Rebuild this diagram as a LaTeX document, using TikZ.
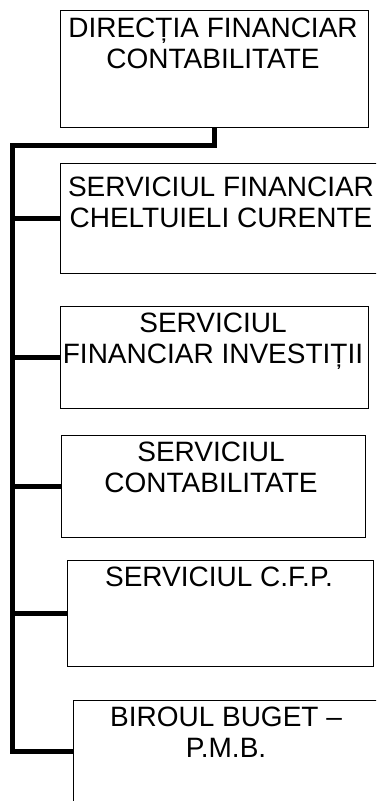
\documentclass[tikz,border=0pt]{standalone}
\usepackage{fontspec}
\setmainfont{Liberation Sans}
\begin{document}
\begin{tikzpicture}[x=0.75pt,y=-0.75pt,
  box/.style={draw, line width=1pt, inner sep=0pt, anchor=north west},
  lbl/.style={font=\fontsize{21}{22.9}\selectfont, align=center, inner sep=0pt, anchor=north},
  link/.style={line width=3.75pt, line join=miter}]
\useasboundingbox (0,0) rectangle (376,801);
\clip (0,0) rectangle (376,801);
% boxes
\node[box, minimum width=231pt, minimum height=87.75pt] (b1) at (60,10) {};
\node[box, minimum width=241.5pt, minimum height=82.5pt] (b2) at (60,163) {};
\node[box, minimum width=231pt, minimum height=76.5pt] (b3) at (60,306) {};
\node[box, minimum width=228pt, minimum height=76.5pt] (b4) at (61,435) {};
\node[box, minimum width=229.5pt, minimum height=79.5pt] (b5) at (67,560) {};
\node[box, minimum width=234pt, minimum height=76.5pt] (b6) at (73,700) {};
% labels
\node[lbl] (t1) at (213,18) {DIRECȚIA FINANCIAR\\CONTABILITATE};
\node[lbl] (t2) at (221,177) {SERVICIUL FINANCIAR\\CHELTUIELI CURENTE};
\node[lbl] (t3) at (213,313) {SERVICIUL\\FINANCIAR INVESTIȚII};
\node[lbl] (t4) at (211,442) {SERVICIUL\\CONTABILITATE};
\node[lbl] (t5) at (219,567) {SERVICIUL C.F.P.};
\node[lbl] (t6) at (226,707) {BIROUL BUGET –\\P.M.B.};
% connectors
\coordinate (bt) at (12.5,145);
\draw[link] (b1.south) -- (b1.south |- bt) -- (bt) -- (bt |- b6.west) -- (b6.west);
\draw[link] (bt |- b2.west) -- (b2.west);
\draw[link] (bt |- b3.west) -- (b3.west);
\draw[link] (bt |- b4.west) -- (b4.west);
\draw[link] (bt |- b5.west) -- (b5.west);
\end{tikzpicture}
\end{document}
